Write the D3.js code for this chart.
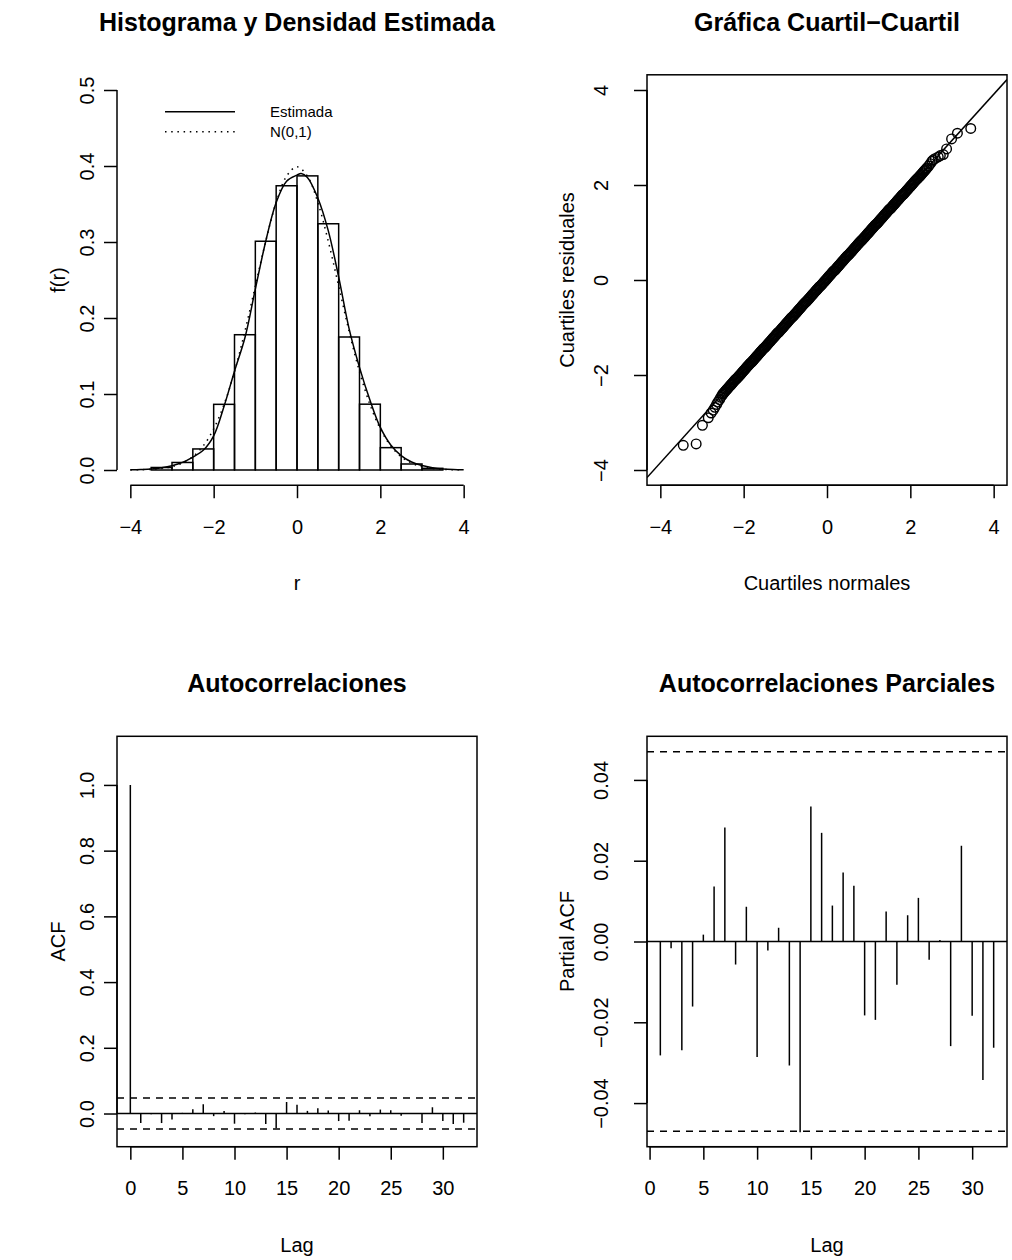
<!DOCTYPE html>
<html>
<head>
<meta charset="utf-8">
<script src="https://cdn.jsdelivr.net/npm/d3@7"></script>
<style>
  body { margin: 0; background: #fff; }
  svg { display: block; font-family: "Liberation Sans", Arial, Helvetica, sans-serif; }
</style>
</head>
<body>
<script>
// histogram: breaks and densities
const histBreaks = [-3.5, -3, -2.5, -2, -1.5, -1, -0.5, 0, 0.5, 1, 1.5, 2, 2.5, 3, 3.5];
const histDensity = [0.0033, 0.0099, 0.0277, 0.0864, 0.178, 0.301, 0.374, 0.387, 0.324, 0.175, 0.0866, 0.0294, 0.0079, 0.0022];

// estimated density (solid)
const estX = [-4, -3.75, -3.5, -3.25, -3, -2.75, -2.5, -2.25, -2, -1.75, -1.5, -1.25, -1, -0.75, -0.5, -0.25, 0, 0.1, 0.25, 0.5, 0.75, 1, 1.25, 1.5, 1.75, 2, 2.25, 2.5, 2.75, 3, 3.25, 3.5, 3.75, 4];
const estY = [0.0003, 0.0007, 0.0014, 0.003, 0.0057, 0.01, 0.017, 0.026, 0.045, 0.084, 0.13, 0.174, 0.238, 0.301, 0.352, 0.38, 0.388, 0.39, 0.385, 0.358, 0.315, 0.254, 0.186, 0.135, 0.092, 0.056, 0.033, 0.019, 0.0105, 0.0058, 0.003, 0.0014, 0.0006, 0.0002];

// N(0,1) (dotted)
const normX = [-4, -3.75, -3.5, -3.25, -3, -2.75, -2.5, -2.25, -2, -1.75, -1.5, -1.25, -1, -0.75, -0.5, -0.25, 0, 0.25, 0.5, 0.75, 1, 1.25, 1.5, 1.75, 2, 2.25, 2.5, 2.75, 3, 3.25, 3.5, 3.75, 4];
const normY = [0.0001, 0.0004, 0.0009, 0.002, 0.0044, 0.0091, 0.0175, 0.0317, 0.054, 0.0863, 0.1295, 0.1826, 0.242, 0.3011, 0.3521, 0.3867, 0.3989, 0.3867, 0.3521, 0.3011, 0.242, 0.1826, 0.1295, 0.0863, 0.054, 0.0317, 0.0175, 0.0091, 0.0044, 0.002, 0.0009, 0.0004, 0.0001];

// QQ plot: theoretical vs sample quantiles
const qqTheo = [-3.45, -3.14, -2.99, -2.85, -2.78, -2.73, -2.69, -2.65, -2.62, -2.58, -2.55, -2.52,
  -2.50, -2.48, -2.46, -2.44, -2.42, -2.40, -2.38, -2.36, -2.34, -2.32,
  -2.30, -2.28, -2.26, -2.24, -2.22, -2.20, -2.18, -2.16, -2.14, -2.12,
  -2.10, -2.08, -2.06, -2.04, -2.02, -2.00, -1.98, -1.96, -1.94, -1.92,
  -1.90, -1.88, -1.86, -1.84, -1.82, -1.80, -1.78, -1.76, -1.74, -1.72,
  -1.70, -1.68, -1.66, -1.64, -1.62, -1.60, -1.58, -1.56, -1.54, -1.52,
  -1.50, -1.48, -1.46, -1.44, -1.42, -1.40, -1.38, -1.36, -1.34, -1.32,
  -1.30, -1.28, -1.26, -1.24, -1.22, -1.20, -1.18, -1.16, -1.14, -1.12,
  -1.10, -1.08, -1.06, -1.04, -1.02, -1.00, -0.98, -0.96, -0.94, -0.92,
  -0.90, -0.88, -0.86, -0.84, -0.82, -0.80, -0.78, -0.76, -0.74, -0.72,
  -0.70, -0.68, -0.66, -0.64, -0.62, -0.60, -0.58, -0.56, -0.54, -0.52,
  -0.50, -0.48, -0.46, -0.44, -0.42, -0.40, -0.38, -0.36, -0.34, -0.32,
  -0.30, -0.28, -0.26, -0.24, -0.22, -0.20, -0.18, -0.16, -0.14, -0.12,
  -0.10, -0.08, -0.06, -0.04, -0.02, 0.00, 0.02, 0.04, 0.06, 0.08,
  0.10, 0.12, 0.14, 0.16, 0.18, 0.20, 0.22, 0.24, 0.26, 0.28,
  0.30, 0.32, 0.34, 0.36, 0.38, 0.40, 0.42, 0.44, 0.46, 0.48,
  0.50, 0.52, 0.54, 0.56, 0.58, 0.60, 0.62, 0.64, 0.66, 0.68,
  0.70, 0.72, 0.74, 0.76, 0.78, 0.80, 0.82, 0.84, 0.86, 0.88,
  0.90, 0.92, 0.94, 0.96, 0.98, 1.00, 1.02, 1.04, 1.06, 1.08,
  1.10, 1.12, 1.14, 1.16, 1.18, 1.20, 1.22, 1.24, 1.26, 1.28,
  1.30, 1.32, 1.34, 1.36, 1.38, 1.40, 1.42, 1.44, 1.46, 1.48,
  1.50, 1.52, 1.54, 1.56, 1.58, 1.60, 1.62, 1.64, 1.66, 1.68,
  1.70, 1.72, 1.74, 1.76, 1.78, 1.80, 1.82, 1.84, 1.86, 1.88,
  1.90, 1.92, 1.94, 1.96, 1.98, 2.00, 2.02, 2.04, 2.06, 2.08,
  2.10, 2.12, 2.14, 2.16, 2.18, 2.20, 2.22, 2.24, 2.26, 2.28,
  2.30, 2.32, 2.34, 2.36, 2.38, 2.40,
  2.44, 2.48, 2.52, 2.55, 2.60, 2.67, 2.72, 2.79, 2.87, 2.99, 3.13, 3.45];
const qqSample = [-3.48, -3.45, -3.06, -2.90, -2.80, -2.74, -2.68, -2.62, -2.57, -2.52, -2.47, -2.43,
  -2.40, -2.38, -2.36, -2.34, -2.32, -2.30, -2.28, -2.26, -2.24, -2.22,
  -2.20, -2.18, -2.16, -2.14, -2.12, -2.10, -2.08, -2.07, -2.05, -2.03,
  -2.01, -1.99, -1.97, -1.95, -1.93, -1.91, -1.89, -1.87, -1.85, -1.83,
  -1.81, -1.79, -1.77, -1.75, -1.74, -1.72, -1.70, -1.68, -1.66, -1.64,
  -1.62, -1.60, -1.58, -1.56, -1.54, -1.52, -1.50, -1.48, -1.46, -1.44,
  -1.43, -1.41, -1.39, -1.37, -1.35, -1.33, -1.31, -1.29, -1.27, -1.25,
  -1.23, -1.21, -1.19, -1.17, -1.15, -1.13, -1.11, -1.10, -1.08, -1.06,
  -1.04, -1.02, -1.00, -0.98, -0.96, -0.94, -0.92, -0.90, -0.88, -0.86,
  -0.84, -0.82, -0.80, -0.78, -0.77, -0.75, -0.73, -0.71, -0.69, -0.67,
  -0.65, -0.63, -0.61, -0.59, -0.57, -0.55, -0.53, -0.51, -0.49, -0.47,
  -0.46, -0.44, -0.42, -0.40, -0.38, -0.36, -0.34, -0.32, -0.30, -0.28,
  -0.26, -0.24, -0.22, -0.20, -0.18, -0.16, -0.14, -0.13, -0.11, -0.09,
  -0.07, -0.05, -0.03, -0.01, 0.01, 0.03, 0.05, 0.07, 0.09, 0.11,
  0.13, 0.15, 0.17, 0.19, 0.20, 0.22, 0.24, 0.26, 0.28, 0.30,
  0.32, 0.34, 0.36, 0.38, 0.40, 0.42, 0.44, 0.46, 0.48, 0.50,
  0.52, 0.53, 0.55, 0.57, 0.59, 0.61, 0.63, 0.65, 0.67, 0.69,
  0.71, 0.73, 0.75, 0.77, 0.79, 0.81, 0.83, 0.84, 0.86, 0.88,
  0.90, 0.92, 0.94, 0.96, 0.98, 1.00, 1.02, 1.04, 1.06, 1.08,
  1.10, 1.12, 1.14, 1.16, 1.17, 1.19, 1.21, 1.23, 1.25, 1.27,
  1.29, 1.31, 1.33, 1.35, 1.37, 1.39, 1.41, 1.43, 1.45, 1.47,
  1.49, 1.50, 1.52, 1.54, 1.56, 1.58, 1.60, 1.62, 1.64, 1.66,
  1.68, 1.70, 1.72, 1.74, 1.76, 1.78, 1.80, 1.81, 1.83, 1.85,
  1.87, 1.89, 1.91, 1.93, 1.95, 1.97, 1.99, 2.01, 2.03, 2.05,
  2.07, 2.09, 2.11, 2.13, 2.14, 2.16, 2.18, 2.20, 2.22, 2.24,
  2.26, 2.28, 2.30, 2.32, 2.34, 2.36,
  2.40, 2.45, 2.50, 2.53, 2.56, 2.59, 2.62, 2.64, 2.76, 2.97, 3.09, 3.19];
const qqLineX = [-4.32, 4.32];
const qqLineY = [-4.16, 4.22];

// ACF (lag 0..32) and PACF (lag 1..32)
const acfLag = d3.range(0, 33);
const acfVal = [1, -0.029, -0.002, -0.029, -0.018, 0.002, 0.013, 0.028, -0.008, 0.008, -0.031, -0.002, 0.003,
  -0.032, -0.045, 0.035, 0.027, 0.008, 0.016, 0.009, -0.023, -0.022, 0.010, -0.008, 0.012, 0.010, -0.007,
  0.001, -0.029, 0.019, -0.023, -0.032, -0.028];
const pacfLag = d3.range(1, 33);
const pacfVal = [-0.0282, -0.0017, -0.0269, -0.0161, 0.0017, 0.0136, 0.0282, -0.0057, 0.0086, -0.0286,
  -0.0022, 0.0034, -0.0307, -0.0472, 0.0334, 0.0269, 0.0089, 0.0171, 0.0138, -0.0183, -0.0194, 0.0074,
  -0.0107, 0.0065, 0.0108, -0.0045, 0.0004, -0.0259, 0.0237, -0.0184, -0.0343, -0.0263];
const clim = 0.047;

const W = 1012, H = 1260;
const svg = d3.select('body').append('svg').attr('width', W).attr('height', H);
svg.append('rect').attr('width', W).attr('height', H).attr('fill', '#fff');

const lw = 1.5;
const tickFont = 20, titleFont = 25;

// plot regions
const rowTop = [74.8, 485.2], rowBot = [736.3, 1146.7];
const colL = [117, 477], colR = [647, 1007];

function title(txt, cx, cy) {
  svg.append('text').attr('x', cx).attr('y', cy).attr('dy', '0.35em')
    .attr('text-anchor', 'middle').attr('font-weight', 'bold').attr('font-size', titleFont).text(txt);
}
function label(txt, cx, cy, rot) {
  svg.append('text').attr('transform', `translate(${cx},${cy})` + (rot ? ' rotate(-90)' : ''))
    .attr('dy', '0.35em').attr('text-anchor', 'middle').attr('font-size', tickFont).text(txt);
}
// R-like axis: line from first to last tick, outward ticks, labels
function xAxis(scale, ticks, y, fmt) {
  const g = svg.append('g').attr('transform', `translate(0,${y})`)
    .call(d3.axisBottom(scale).tickValues(ticks).tickSize(13).tickSizeOuter(0).tickFormat(fmt));
  g.select('.domain').remove();
  g.selectAll('line').attr('stroke', '#000').attr('stroke-width', lw);
  g.selectAll('text').attr('y', 41.5).attr('dy', '0.35em').attr('font-size', tickFont)
    .attr('fill', '#000');
  g.attr('font-family', null);
  g.append('line').attr('x1', scale(ticks[0])).attr('x2', scale(ticks[ticks.length - 1]))
    .attr('stroke', '#000').attr('stroke-width', lw);
}
function yAxis(scale, ticks, x, fmt, off) {
  const g = svg.append('g').attr('transform', `translate(${x},0)`)
    .call(d3.axisLeft(scale).tickValues(ticks).tickSize(13).tickSizeOuter(0).tickFormat(fmt));
  g.select('.domain').remove();
  g.selectAll('line').attr('stroke', '#000').attr('stroke-width', lw);
  g.selectAll('text').attr('x', null).attr('dy', '0.35em').attr('text-anchor', 'middle')
    .attr('transform', `translate(${-off},0) rotate(-90)`).attr('font-size', tickFont)
    .attr('fill', '#000');
  g.attr('font-family', null);
  g.append('line').attr('y1', scale(ticks[0])).attr('y2', scale(ticks[ticks.length - 1]))
    .attr('stroke', '#000').attr('stroke-width', lw);
}
function box(xr, yr) {
  svg.append('rect').attr('x', xr[0]).attr('y', yr[0]).attr('width', xr[1] - xr[0]).attr('height', yr[1] - yr[0])
    .attr('fill', 'none').attr('stroke', '#000').attr('stroke-width', lw);
}

// ---------- Panel 1: histogram ----------
const hx = d3.scaleLinear().domain([-4.32, 4.32]).range(colL);
const hy = d3.scaleLinear().domain([-0.02, 0.52]).range([rowTop[1], rowTop[0]]);

svg.append('g').selectAll('rect').data(histDensity).join('rect')
  .attr('x', (d, i) => hx(histBreaks[i]))
  .attr('width', (d, i) => hx(histBreaks[i + 1]) - hx(histBreaks[i]))
  .attr('y', d => hy(d))
  .attr('height', d => hy(0) - hy(d))
  .attr('fill', 'none').attr('stroke', '#000').attr('stroke-width', lw);

const dline = d3.line().x(d => hx(d[0])).y(d => hy(d[1])).curve(d3.curveCatmullRom);
svg.append('path').attr('d', dline(d3.zip(estX, estY)))
  .attr('fill', 'none').attr('stroke', '#000').attr('stroke-width', lw);
svg.append('path').attr('d', dline(d3.zip(normX, normY)))
  .attr('fill', 'none').attr('stroke', '#000').attr('stroke-width', lw).attr('stroke-dasharray', '1.5,4.7');

xAxis(hx, [-4, -2, 0, 2, 4], rowTop[1], d3.format('d'));
yAxis(hy, [0, 0.1, 0.2, 0.3, 0.4, 0.5], colL[0], d3.format('.1f'), 30);

// legend
const leg = svg.append('g');
leg.append('line').attr('x1', 165).attr('x2', 235).attr('y1', 111.7).attr('y2', 111.7)
  .attr('stroke', '#000').attr('stroke-width', lw);
leg.append('line').attr('x1', 165).attr('x2', 235).attr('y1', 131.7).attr('y2', 131.7)
  .attr('stroke', '#000').attr('stroke-width', lw).attr('stroke-dasharray', '1.5,4.7');
leg.append('text').attr('x', 270).attr('y', 111.7).attr('dy', '0.35em').attr('font-size', 15).text('Estimada');
leg.append('text').attr('x', 270).attr('y', 131.7).attr('dy', '0.35em').attr('font-size', 15).text('N(0,1)');

title('Histograma y Densidad Estimada', (colL[0] + colL[1]) / 2, 22);
label('r', (colL[0] + colL[1]) / 2, 583);
label('f(r)', 58, (rowTop[0] + rowTop[1]) / 2, true);

// ---------- Panel 2: QQ plot ----------
const qx = d3.scaleLinear().domain([-4.32, 4.32]).range(colR);
const qy = d3.scaleLinear().domain([-4.32, 4.32]).range([rowTop[1], rowTop[0]]);

svg.append('clipPath').attr('id', 'qqclip').append('rect')
  .attr('x', colR[0]).attr('y', rowTop[0]).attr('width', colR[1] - colR[0]).attr('height', rowTop[1] - rowTop[0]);
svg.append('g').selectAll('circle').data(d3.zip(qqTheo, qqSample)).join('circle')
  .attr('cx', d => qx(d[0])).attr('cy', d => qy(d[1])).attr('r', 4.8)
  .attr('fill', 'none').attr('stroke', '#000').attr('stroke-width', 1.4);
svg.append('line').attr('clip-path', 'url(#qqclip)')
  .attr('x1', qx(qqLineX[0])).attr('y1', qy(qqLineY[0])).attr('x2', qx(qqLineX[1])).attr('y2', qy(qqLineY[1]))
  .attr('stroke', '#000').attr('stroke-width', lw);
box(colR, rowTop);
xAxis(qx, [-4, -2, 0, 2, 4], rowTop[1], d3.format('d'));
yAxis(qy, [-4, -2, 0, 2, 4], colR[0], d3.format('d'), 46);
title('Gráfica Cuartil\u2212Cuartil', (colR[0] + colR[1]) / 2, 22);
label('Cuartiles normales', (colR[0] + colR[1]) / 2, 583);
label('Cuartiles residuales', 567, (rowTop[0] + rowTop[1]) / 2, true);

// ---------- Panel 3: ACF ----------
const ax = d3.scaleLinear().domain([-1.28, 33.28]).range(colL);
const ay = d3.scaleLinear().domain([-0.101, 1.148]).range([rowBot[1], rowBot[0]]);
svg.append('g').selectAll('line').data(acfVal).join('line')
  .attr('x1', (d, i) => ax(acfLag[i])).attr('x2', (d, i) => ax(acfLag[i]))
  .attr('y1', ay(0)).attr('y2', d => ay(d))
  .attr('stroke', '#000').attr('stroke-width', lw);
svg.append('line').attr('x1', colL[0]).attr('x2', colL[1]).attr('y1', ay(0)).attr('y2', ay(0))
  .attr('stroke', '#000').attr('stroke-width', lw);
[clim, -clim].forEach(c => svg.append('line').attr('x1', colL[0]).attr('x2', colL[1])
  .attr('y1', ay(c)).attr('y2', ay(c)).attr('stroke', '#000').attr('stroke-width', lw).attr('stroke-dasharray', '7,6'));
box(colL, rowBot);
xAxis(ax, [0, 5, 10, 15, 20, 25, 30], rowBot[1], d3.format('d'));
yAxis(ay, [0, 0.2, 0.4, 0.6, 0.8, 1], colL[0], d3.format('.1f'), 30);
title('Autocorrelaciones', (colL[0] + colL[1]) / 2, 683.5);
label('Lag', (colL[0] + colL[1]) / 2, 1244.5);
label('ACF', 58, (rowBot[0] + rowBot[1]) / 2, true);

// ---------- Panel 4: PACF ----------
const px = d3.scaleLinear().domain([-0.24, 33.24]).range(colR);
const py = d3.scaleLinear().domain([-0.0508, 0.0508]).range([rowBot[1], rowBot[0]]);
svg.append('g').selectAll('line').data(pacfVal).join('line')
  .attr('x1', (d, i) => px(pacfLag[i])).attr('x2', (d, i) => px(pacfLag[i]))
  .attr('y1', py(0)).attr('y2', d => py(d))
  .attr('stroke', '#000').attr('stroke-width', lw);
svg.append('line').attr('x1', colR[0]).attr('x2', colR[1]).attr('y1', py(0)).attr('y2', py(0))
  .attr('stroke', '#000').attr('stroke-width', lw);
[clim, -clim].forEach(c => svg.append('line').attr('x1', colR[0]).attr('x2', colR[1])
  .attr('y1', py(c)).attr('y2', py(c)).attr('stroke', '#000').attr('stroke-width', lw).attr('stroke-dasharray', '7,6'));
box(colR, rowBot);
xAxis(px, [0, 5, 10, 15, 20, 25, 30], rowBot[1], d3.format('d'));
yAxis(py, [-0.04, -0.02, 0, 0.02, 0.04], colR[0], d3.format('.2f'), 46);
title('Autocorrelaciones Parciales', (colR[0] + colR[1]) / 2, 683.5);
label('Lag', (colR[0] + colR[1]) / 2, 1244.5);
label('Partial ACF', 567, (rowBot[0] + rowBot[1]) / 2, true);
</script>
</body>
</html>
